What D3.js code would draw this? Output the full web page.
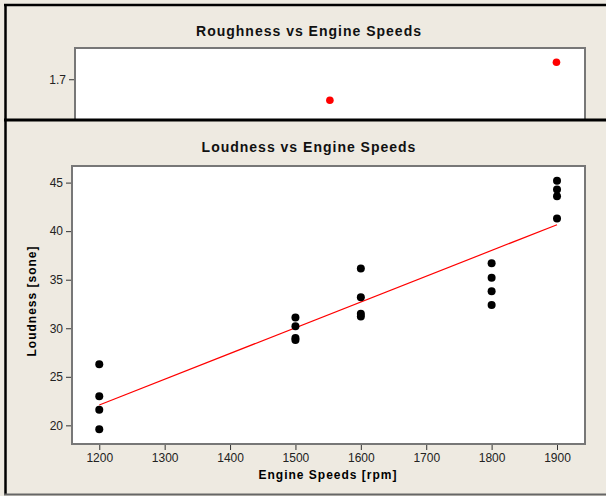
<!DOCTYPE html>
<html>
<head>
<meta charset="utf-8">
<script src="https://cdn.jsdelivr.net/npm/d3@7"></script>
<style>
  body { margin: 0; background: #fff; }
  svg { display: block; font-family: "Liberation Sans", Arial, sans-serif; }
  .tick text { font-size: 12px; fill: #222; }
  .title { font-size: 14px; font-weight: bold; letter-spacing: 1px; fill: #111; }
  .axis-label { font-size: 12px; font-weight: bold; letter-spacing: 1px; fill: #000; }
</style>
</head>
<body>
<svg></svg>
<script>
const width = 606;
const height = 496;

// datos - loudness
const speeds = [1200, 1200, 1200, 1200,
                1500, 1500, 1500, 1500,
                1600, 1600, 1600, 1600,
                1800, 1800, 1800, 1800,
                1900, 1900, 1900, 1900];
const loudness = [26.3, 23.0, 21.6, 19.6,
                  31.1, 30.2, 29.0, 28.8,
                  36.15, 33.2, 31.5, 31.2,
                  36.7, 35.2, 33.8, 32.4,
                  45.2, 44.3, 43.6, 41.3];
const xTicks = [1200, 1300, 1400, 1500, 1600, 1700, 1800, 1900];
const yTicks = [20, 25, 30, 35, 40, 45];

// datos - roughness (only the top of this panel is visible)
const roughSpeeds = [1553, 1900];
const roughness = [1.658, 1.734];
const roughTicks = [1.7];

const bg = "#eeeae1";

const svg = d3.select("svg").attr("width", width).attr("height", height);

svg.append("rect").attr("width", width).attr("height", height).attr("fill", bg);

// ---- panel de arriba: roughness ----
const gRough = svg.append("g");
const xr = d3.scaleLinear().domain([1162.7, 1943.7]).range([75, 585]);
const yr = d3.scaleLinear().domain([1.458, 1.7626]).range([200, 48]);

gRough.append("rect")
  .attr("x", 75).attr("y", 48)
  .attr("width", 510).attr("height", 152)
  .attr("fill", "#fff").attr("stroke", "#777").attr("stroke-width", 2);

gRough.append("g")
  .attr("transform", "translate(74,0)")
  .call(d3.axisLeft(yr).tickValues(roughTicks).tickFormat(d3.format(".1f")).tickSize(5).tickPadding(3))
  .call(g => g.select(".domain").remove())
  .call(g => g.selectAll("line").attr("stroke", "#333"));

gRough.selectAll("circle")
  .data(roughSpeeds)
  .join("circle")
  .attr("cx", d => xr(d))
  .attr("cy", (d, i) => yr(roughness[i]))
  .attr("r", 3.8)
  .attr("fill", "#ff0000");

gRough.append("text")
  .attr("class", "title")
  .attr("x", 309).attr("y", 36)
  .attr("text-anchor", "middle")
  .text("Roughness vs Engine Speeds");

// ---- panel principal: loudness ----
const gMain = svg.append("g");
gMain.append("rect")
  .attr("x", 0).attr("y", 120)
  .attr("width", width).attr("height", height - 120)
  .attr("fill", bg);

const x = d3.scaleLinear().domain([1158.3, 1942.8]).range([72, 585]);
const y = d3.scaleLinear().domain([18.08, 46.71]).range([444, 166]);

gMain.append("rect")
  .attr("x", 72).attr("y", 166)
  .attr("width", 513).attr("height", 278)
  .attr("fill", "#fff").attr("stroke", "#777").attr("stroke-width", 2);

//ejeX
gMain.append("g")
  .attr("transform", "translate(0,445)")
  .call(d3.axisBottom(x).tickValues(xTicks).tickFormat(d3.format("d")).tickSize(5).tickPadding(3))
  .call(g => g.select(".domain").remove())
  .call(g => g.selectAll("line").attr("stroke", "#333"));

//ejeY
gMain.append("g")
  .attr("transform", "translate(71,0)")
  .call(d3.axisLeft(y).tickValues(yTicks).tickSize(5).tickPadding(3))
  .call(g => g.select(".domain").remove())
  .call(g => g.selectAll("line").attr("stroke", "#333"));

// recta de regresion (minimos cuadrados)
const mx = d3.mean(speeds);
const my = d3.mean(loudness);
const slope = d3.sum(speeds, (s, i) => (s - mx) * (loudness[i] - my)) /
              d3.sum(speeds, s => (s - mx) * (s - mx));
const fit = s => my + slope * (s - mx);
const ext = d3.extent(speeds);

gMain.append("line")
  .attr("x1", x(ext[0])).attr("y1", y(fit(ext[0])))
  .attr("x2", x(ext[1])).attr("y2", y(fit(ext[1])))
  .attr("stroke", "#ff0000").attr("stroke-width", 1.2);

gMain.selectAll("circle.pt")
  .data(speeds)
  .join("circle")
  .attr("class", "pt")
  .attr("cx", d => x(d))
  .attr("cy", (d, i) => y(loudness[i]))
  .attr("r", 4)
  .attr("fill", "#000");

gMain.append("text")
  .attr("class", "title")
  .attr("x", 309).attr("y", 152)
  .attr("text-anchor", "middle")
  .text("Loudness vs Engine Speeds");

//etiqueta x
gMain.append("text")
  .attr("class", "axis-label")
  .attr("x", 328).attr("y", 479)
  .attr("text-anchor", "middle")
  .text("Engine Speeds [rpm]");

//etiqueta y
gMain.append("text")
  .attr("class", "axis-label")
  .attr("transform", "rotate(-90)")
  .attr("x", -301).attr("y", 36)
  .attr("text-anchor", "middle")
  .text("Loudness [sone]");

// marcos
svg.append("line").attr("x1", 4).attr("x2", width).attr("y1", 5).attr("y2", 5)
  .attr("stroke", "#000").attr("stroke-width", 2.5);
svg.append("line").attr("x1", 4).attr("x2", width).attr("y1", 120).attr("y2", 120)
  .attr("stroke", "#000").attr("stroke-width", 3);
svg.append("line").attr("x1", 5.5).attr("x2", 5.5).attr("y1", 4).attr("y2", 495)
  .attr("stroke", "#000").attr("stroke-width", 2.5);
svg.append("line").attr("x1", 4).attr("x2", width).attr("y1", 494.5).attr("y2", 494.5)
  .attr("stroke", "#666").attr("stroke-width", 2);
</script>
</body>
</html>
